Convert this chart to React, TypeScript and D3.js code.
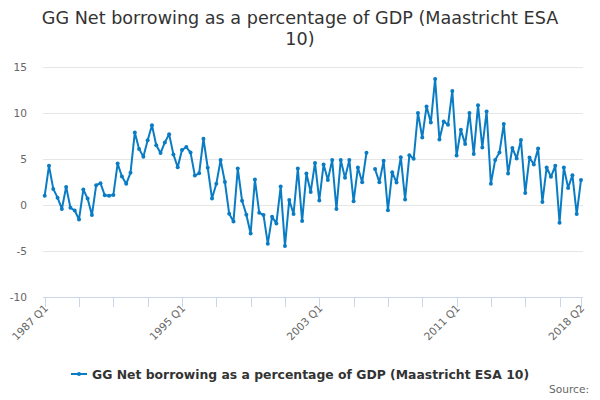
import React, { useEffect, useRef } from 'react';
import * as d3 from 'd3';

// quarters 1987 Q1 .. 2018 Q2
const quarters: string[] = d3.range(126).map(i => `${1987 + Math.floor(i / 4)} Q${(i % 4) + 1}`);

// GG net borrowing, % of GDP (null = missing quarter)
const borrowing: (number | null)[] = [
  1.0, 4.26, 1.75, 0.8, -0.43, 1.97, -0.3, -0.6, -1.57, 1.68,
  0.7, -1.1, 2.15, 2.37, 1.05, 1.0, 1.1, 4.5, 3.1, 2.3,
  3.5, 7.87, 6.1, 5.25, 7.03, 8.67, 6.5, 5.65, 6.8, 7.7,
  5.5, 4.1, 5.97, 6.3, 5.7, 3.2, 3.45, 7.2, 4.05, 0.7,
  2.3, 4.88, 2.5, -0.95, -1.8, 3.97, 0.47, -1.05, -3.1, 2.77,
  -0.84, -1.1, -4.2, -1.27, -2.0, 2.0, -4.45, 0.55, -0.98, 3.97,
  -1.75, 3.42, 1.42, 4.57, 0.5, 4.4, 2.73, 4.88, -0.44, 4.88,
  2.95, 4.88, 0.4, 4.07, 2.48, 5.68, null, 3.9, 2.48, 4.8,
  -0.58, 3.57, 2.44, 5.2, 0.6, 5.4, 5.02, 10.0, 7.34, 10.72,
  8.97, 13.7, 7.12, 9.08, 8.72, 12.4, 5.38, 8.18, 6.62, 10.0,
  5.53, 10.83, 6.25, 10.17, 2.32, 4.9, 5.72, 8.8, 3.42, 6.2,
  5.06, 7.07, 1.31, 5.17, 4.4, 6.15, 0.33, 4.08, 3.06, 4.26,
  -1.93, 4.08, 1.86, 3.24, -0.98, 2.73,
];

const yTicks = [-10, -5, 0, 5, 10, 15];
const labelledQuarters = ['1987 Q1', '1995 Q1', '2003 Q1', '2011 Q1', '2018 Q2'];
const seriesName = 'GG Net borrowing as a percentage of GDP (Maastricht ESA 10)';
const titleLines = ['GG Net borrowing as a percentage of GDP (Maastricht ESA', '10)'];

export default function App() {
  const svgRef = useRef<SVGSVGElement>(null);
  const width = 600;
  const height = 400;

  useEffect(() => {
    if (!svgRef.current) return;
    const svg = d3.select(svgRef.current);
    svg.selectAll('*').remove();

    const font = 'DejaVu Sans, sans-serif';
    const colors = { line: '#0a7cc4', text: '#333333', sub: '#666666', grid: '#e6e6e6', axis: '#ccd6eb' };
    const plot = { left: 43, right: 583, top: 67, bottom: 297 };

    const x = d3.scalePoint<string>().domain(quarters).range([44.7, 581]);
    const y = d3.scaleLinear().domain([-10, 15]).range([plot.bottom, plot.top]);

    svg.append('rect').attr('width', width).attr('height', height).attr('fill', '#ffffff');

    // title
    svg.append('text').attr('x', width / 2).attr('text-anchor', 'middle').attr('fill', colors.text)
      .style('font-family', font).style('font-size', '17.6px')
      .selectAll('tspan').data(titleLines).join('tspan')
      .attr('x', width / 2).attr('y', (_d, i) => 24 + i * 21).text(d => d);

    // grid
    svg.append('g').selectAll('line').data(yTicks.filter(t => t !== -10)).join('line')
      .attr('x1', plot.left).attr('x2', plot.right)
      .attr('y1', d => y(d) + 0.5).attr('y2', d => y(d) + 0.5)
      .attr('stroke', colors.grid).attr('stroke-width', 1);

    svg.append('g').selectAll('text').data(yTicks).join('text')
      .attr('x', 27).attr('y', d => y(d) + 4).attr('text-anchor', 'end')
      .attr('fill', colors.sub).style('font-family', font).style('font-size', '10.6px')
      .text(d => d);

    // x axis
    svg.append('line').attr('x1', plot.left).attr('x2', plot.right)
      .attr('y1', plot.bottom + 0.5).attr('y2', plot.bottom + 0.5).attr('stroke', colors.axis);
    const tickQs = quarters.filter((_q, i) => i % 8 === 0 || i === quarters.length - 1);
    svg.append('g').selectAll('line').data(tickQs).join('line')
      .attr('x1', d => Math.round(x(d)!) + 0.5).attr('x2', d => Math.round(x(d)!) + 0.5)
      .attr('y1', plot.bottom).attr('y2', plot.bottom + 10).attr('stroke', colors.axis);
    svg.append('g').selectAll('text').data(labelledQuarters).join('text')
      .attr('transform', d => `translate(${x(d)! + 4},${plot.bottom + 12}) rotate(-45)`)
      .attr('text-anchor', 'end').attr('fill', colors.sub)
      .style('font-family', font).style('font-size', '10.6px')
      .text(d => d);

    // series
    const pts = quarters.map((q, i) => ({ q, v: borrowing[i] }));
    const line = d3.line<{ q: string; v: number | null }>()
      .defined(d => d.v !== null)
      .x(d => x(d.q)!).y(d => y(d.v as number));
    svg.append('path').datum(pts).attr('fill', 'none').attr('stroke', colors.line)
      .attr('stroke-width', 2).attr('stroke-linejoin', 'round').attr('d', line);
    svg.append('g').selectAll('circle').data(pts.filter(d => d.v !== null)).join('circle')
      .attr('cx', d => x(d.q)!).attr('cy', d => y(d.v as number)).attr('r', 2)
      .attr('fill', colors.line);

    // legend
    const lg = svg.append('g').attr('transform', 'translate(71,374)');
    lg.append('line').attr('x1', 0).attr('x2', 16).attr('stroke', colors.line).attr('stroke-width', 2);
    lg.append('circle').attr('cx', 8).attr('r', 2).attr('fill', colors.line);
    lg.append('text').attr('x', 21).attr('y', 4.5).attr('fill', colors.text)
      .style('font-family', font).style('font-size', '12.4px').style('font-weight', 'bold')
      .text(seriesName);

    svg.append('text').attr('x', 589).attr('y', 393).attr('text-anchor', 'end').attr('fill', colors.sub)
      .style('font-family', font).style('font-size', '10.6px').text('Source:');
  }, []);

  return (
    <svg ref={svgRef} width={width} height={height} viewBox={`0 0 ${width} ${height}`}
      style={{ position: 'absolute', left: 0, top: 0 }} />
  );
}
